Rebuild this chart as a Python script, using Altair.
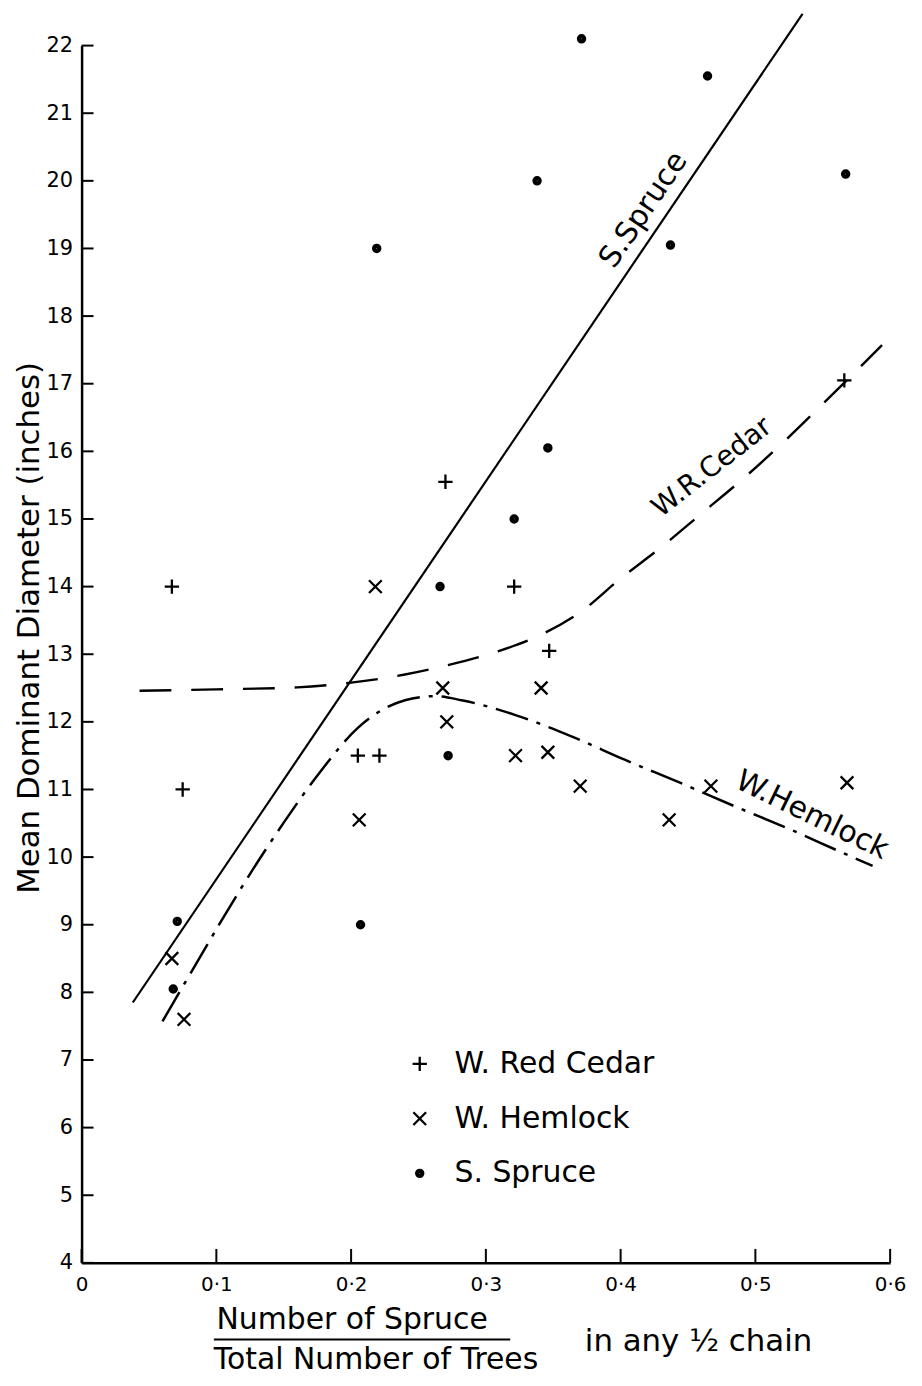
import altair as alt
import pandas as pd

# ---------------- data ----------------
x_ticks = [0, 0.1, 0.2, 0.3, 0.4, 0.5, 0.6]
y_ticks = list(range(4, 23))

species = ["W. Red Cedar", "W. Hemlock", "S. Spruce"]

cedar_x = [0.067, 0.075, 0.205, 0.221, 0.270, 0.321, 0.347, 0.566]
cedar_y = [14.0, 11.0, 11.5, 11.5, 15.55, 14.0, 13.05, 17.05]

hemlock_x = [0.067, 0.076, 0.206, 0.218, 0.268, 0.271, 0.322, 0.341, 0.346, 0.370, 0.436, 0.467, 0.568]
hemlock_y = [8.5, 7.6, 10.55, 14.0, 12.5, 12.0, 11.5, 12.5, 11.55, 11.05, 10.55, 11.05, 11.1]

spruce_x = [0.068, 0.071, 0.207, 0.219, 0.266, 0.272, 0.321, 0.338, 0.346, 0.371, 0.437, 0.4645, 0.567]
spruce_y = [8.05, 9.05, 9.0, 19.0, 14.0, 11.5, 15.0, 20.0, 16.05, 22.1, 19.05, 21.55, 20.1]

spruce_line_x = [0.038, 0.535]
spruce_line_y = [7.85, 22.47]

cedar_line_x = [0.043, 0.10, 0.16, 0.20, 0.24, 0.28, 0.31, 0.34, 0.37, 0.40, 0.43, 0.46, 0.49, 0.52, 0.55, 0.594]
cedar_line_y = [12.46, 12.48, 12.51, 12.58, 12.70, 12.88, 13.05, 13.28, 13.62, 14.12, 14.58, 15.08, 15.58, 16.12, 16.70, 17.57]

hemlock_line_x = [0.060, 0.079, 0.102, 0.124, 0.150, 0.177, 0.205, 0.240, 0.262, 0.282, 0.322, 0.363, 0.403, 0.444, 0.486, 0.527, 0.564, 0.587]
hemlock_line_y = [7.57, 8.22, 9.0, 9.72, 10.51, 11.26, 11.91, 12.32, 12.38, 12.32, 12.10, 11.79, 11.44, 11.10, 10.74, 10.40, 10.07, 9.87]

line_labels = ["S.Spruce", "W.R.Cedar", "W.Hemlock"]
line_label_x = [0.417, 0.468, 0.542]
line_label_y = [19.57, 15.76, 10.62]

y_title = "Mean Dominant Diameter (inches)"
x_title_lines = ["Number of Spruce", "Total Number of Trees", "in any \u00bd chain"]

# ---------------- layout / style ----------------
W, H = 813, 1224
FONT = "DejaVu Sans"

xs = alt.Scale(domain=[0, 0.6], nice=False, zero=False)
ys = alt.Scale(domain=[4, 22], nice=False, zero=False)

x_axis = alt.Axis(values=x_ticks, title=None, grid=False, ticks=False,
                  domainColor="black", domainWidth=2.5,
                  labelExpr="datum.value == 0 ? '0' : replace(format(datum.value, '.1f'), '.', '\u00b7')",
                  labelFontSize=20, labelPadding=12, labelColor="black", labelFont=FONT,
                  labelFlush=False, labelOverlap=False)
y_axis = alt.Axis(values=y_ticks, title=y_title, grid=False, ticks=False,
                  domainColor="black", domainWidth=2.5, format="d",
                  labelFontSize=21, labelPadding=9, labelColor="black", labelFont=FONT,
                  labelFlush=False, labelOverlap=False,
                  titleFontSize=31, titleFontWeight="normal", titleFont=FONT, titleColor="black",
                  titleX=-52, titleY=585, titleAngle=270, titleBaseline="middle", titleAlign="center")

X = alt.X("x:Q", scale=xs, axis=x_axis)
Y = alt.Y("y:Q", scale=ys, axis=y_axis)

dot_path = ("M-0.45,0A0.45,0.45 0 1,0 0.45,0A0.45,0.45 0 1,0 -0.45,0"
            "M-0.28,0A0.28,0.28 0 1,0 0.28,0A0.28,0.28 0 1,0 -0.28,0"
            "M-0.1,0A0.1,0.1 0 1,0 0.1,0A0.1,0.1 0 1,0 -0.1,0")
paths = [
    "M-0.9,0L0.9,0M0,-0.9L0,0.9",
    "M-0.8,-0.8L0.8,0.8M-0.8,0.8L0.8,-0.8",
    dot_path,
]

pts = pd.concat([
    pd.DataFrame({"x": cedar_x, "y": cedar_y, "species": species[0]}),
    pd.DataFrame({"x": hemlock_x, "y": hemlock_y, "species": species[1]}),
    pd.DataFrame({"x": spruce_x, "y": spruce_y, "species": species[2]}),
])

points = alt.Chart(pts).mark_point(filled=False, color="black", stroke="black",
                                   strokeWidth=2.3, size=256, opacity=1).encode(
    x=X, y=Y,
    shape=alt.Shape("species:N", scale=alt.Scale(domain=species, range=paths),
                    legend=alt.Legend(title=None, orient="none", legendX=325, legendY=1009,
                                      labelFontSize=30, labelLimit=0, labelFont=FONT,
                                      labelColor="black", symbolSize=256,
                                      symbolStrokeWidth=2.3, symbolStrokeColor="black",
                                      symbolOpacity=1,
                                      rowPadding=25, labelOffset=20, padding=0)),
)

spruce_line = alt.Chart(pd.DataFrame({"x": spruce_line_x, "y": spruce_line_y})).mark_line(
    color="black", strokeWidth=2.2).encode(x=X, y=Y)

cedar_line = alt.Chart(pd.DataFrame({"x": cedar_line_x, "y": cedar_line_y})).mark_line(
    color="black", strokeWidth=2.4, interpolate="monotone", strokeDash=[32, 20]).encode(x=X, y=Y)

hemlock_line = alt.Chart(pd.DataFrame({"x": hemlock_line_x, "y": hemlock_line_y})).mark_line(
    color="black", strokeWidth=2.5, interpolate="monotone", strokeDash=[34, 9, 4, 9]).encode(x=X, y=Y)

label_angles = [304, 322, 26]
label_sizes = [30, 28, 30]
label_layers = []
for i in range(3):
    df = pd.DataFrame({"x": [line_label_x[i]], "y": [line_label_y[i]], "t": [line_labels[i]]})
    label_layers.append(alt.Chart(df).mark_text(
        angle=label_angles[i], fontSize=label_sizes[i], font=FONT, color="black",
        align="center", baseline="middle").encode(x=X, y=Y, text="t:N"))

yt = alt.Chart(pd.DataFrame({"y": y_ticks})).mark_rule(color="black", strokeWidth=2).encode(
    y=Y, x=alt.value(0), x2=alt.value(12))
xt = alt.Chart(pd.DataFrame({"x": x_ticks})).mark_rule(color="black", strokeWidth=2).encode(
    x=X, y=alt.value(H), y2=alt.value(H - 14))

t1 = alt.Chart(pd.DataFrame({"t": [x_title_lines[0]]})).mark_text(
    fontSize=30, font=FONT, color="black", align="center", baseline="alphabetic").encode(
    text="t:N", x=alt.value(272), y=alt.value(1291))
t2 = alt.Chart(pd.DataFrame({"t": [x_title_lines[1]]})).mark_text(
    fontSize=30, font=FONT, color="black", align="left", baseline="alphabetic").encode(
    text="t:N", x=alt.value(133), y=alt.value(1331))
t3 = alt.Chart(pd.DataFrame({"t": [x_title_lines[2]]})).mark_text(
    fontSize=31, font=FONT, color="black", align="left", baseline="alphabetic").encode(
    text="t:N", x=alt.value(506), y=alt.value(1313))
bar = alt.Chart(pd.DataFrame({"t": [x_title_lines[0]]})).mark_rule(color="black", strokeWidth=2).encode(
    x=alt.value(133), x2=alt.value(431), y=alt.value(1301))

chart = alt.layer(
    spruce_line, cedar_line, hemlock_line, points, *label_layers, yt, xt, t1, t2, t3, bar
).properties(
    width=W, height=H,
    autosize=alt.AutoSizeParams(type="none"),
    padding={"left": 74, "top": 34, "right": 24, "bottom": 116},
    background="white",
).configure(font=FONT).configure_view(stroke=None, strokeWidth=0)

chart.save("out.html", embed_options={"renderer": "svg", "actions": False})
